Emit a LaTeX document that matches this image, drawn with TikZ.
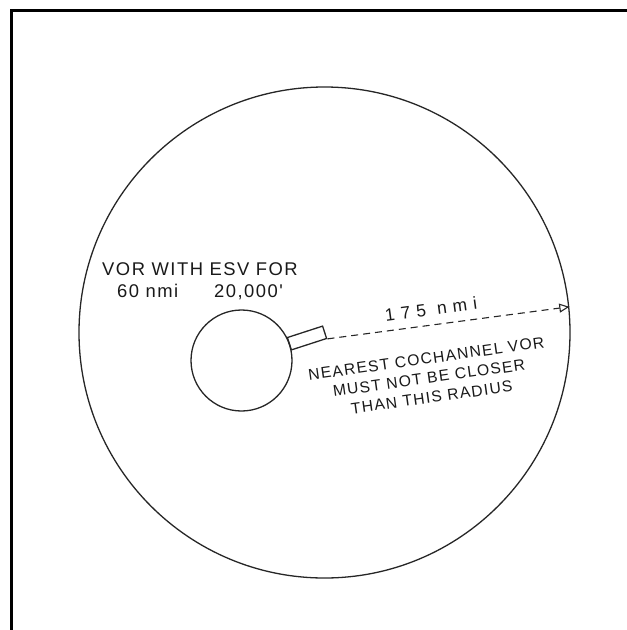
\documentclass[tikz,border=0pt]{standalone}
\usepackage{fontspec}
\newfontfamily\cadfont{Liberation Sans}[LetterSpace=8]
\usetikzlibrary{arrows.meta}

\begin{document}
\begin{tikzpicture}[
    x=1pt, y=-1pt,
    font=\cadfont,
    % ---- styles -------------------------------------------------
    ring/.style={circle, draw=black!85, line width=1.3pt, inner sep=0pt},
    vorbox/.style={draw=black!85, line width=1.3pt, inner sep=0pt,
        minimum width=37pt, minimum height=13pt},
    note/.style={inner sep=0pt, align=center, text=black!90},
    reach/.style={draw=black!85, line width=1.1pt, dash pattern=on 7pt off 5pt,
        -{Triangle[open,length=10pt,width=9pt]}},
    frame/.style={line width=3pt, draw=black},
]
\useasboundingbox (0,0) rectangle (627,630);

% =================== frame ====================================
\draw[frame] (11,630) -- (11,10.5) -- (627,10.5);

% =================== circles ==================================
\node[ring, minimum size=491pt] (range) at (324.5,332.5) {};
\node[ring, minimum size=101pt] (vor)   at (241.5,360.5) {};
\node[vorbox, rotate=18] (box) at (307,338) {};

% =================== radius ===================================
\draw[reach] (box.south east) -- (range.6);
\node[note, rotate=7.7, font=\cadfont\fontsize{17.5}{20}\selectfont\addfontfeature{LetterSpace=35}]
    (dist) at (431,309) {175 nmi};

% =================== labels ===================================
\node[note, anchor=north, font=\cadfont\fontsize{18.4}{22.5}\selectfont]
    (esv) at (200,262) {VOR WITH ESV FOR\\60 nmi\hspace{36pt}20,000'};
\node[note, rotate=8, font=\cadfont\fontsize{15.7}{19.5}\selectfont]
    (rule) at (429,378) {NEAREST COCHANNEL VOR\\MUST NOT BE CLOSER\\THAN THIS RADIUS};

\end{tikzpicture}
\end{document}
